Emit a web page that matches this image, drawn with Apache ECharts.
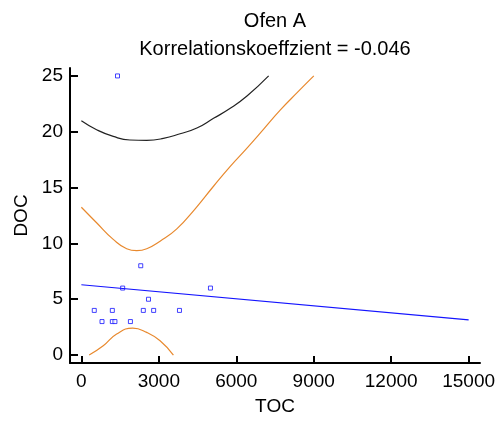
<!DOCTYPE html>
<html>
<head>
<meta charset="utf-8">
<script src="https://cdn.jsdelivr.net/npm/echarts@6/dist/echarts.min.js"></script>
<style>
  html, body { margin: 0; padding: 0; background: #fff; }
  #chart { width: 501px; height: 421px; }
</style>
</head>
<body>
<div id="chart"></div>
<script>
// measured points (TOC, DOC)
const points = [
  [500, 4], [800, 3], [1200, 4], [1200, 3], [1300, 3], [1400, 25], [1600, 6],
  [1900, 3], [2300, 8], [2400, 4], [2600, 5], [2800, 4], [3800, 4], [5000, 6]
];
// fitted line, read at both ends
const fitLine = [[0, 6.3], [15000, 3.15]];
// orange bands
const upperConf = [
  [0, 13.24], [590, 11.85], [1235, 10.36], [1755, 9.52], [2144, 9.35], [2532, 9.52],
  [3049, 10.2], [3697, 11.3], [4408, 13.1], [5119, 15.12], [5767, 16.9], [6415, 18.54],
  [7061, 20.24], [7709, 21.96], [8357, 23.5], [9003, 25]
];
const lowerConf = [
  [303, 0], [847, 0.83], [1367, 1.88], [1988, 2.41], [2532, 2.03], [3049, 1.28], [3565, 0]
];
// black band
const upperPred = [
  [0, 20.98], [590, 20.18], [1235, 19.58], [1883, 19.26], [2532, 19.23], [3177, 19.4],
  [3825, 19.82], [4474, 20.33], [5119, 21.2], [5767, 22.1], [6415, 23.2], [7254, 25]
];
const xTicks = [0, 3000, 6000, 9000, 12000, 15000];
const yTicks = [0, 5, 10, 15, 20, 25];

const font = 'Liberation Sans, Arial, sans-serif';
const xRange = { min: -440, max: 15440 };
const yRange = { min: -0.71, max: 25.71 };

const chart = echarts.init(document.getElementById('chart'));

const axisLine = { show: true, onZero: false, lineStyle: { color: '#000', width: 2 } };
const labelStyle = { fontSize: 19, fontFamily: font, color: '#000', formatter: (v) => String(v) };

chart.setOption({
  animation: false,
  graphic: [
    { type: 'text', x: 275, y: 21, style: { text: 'Ofen A', font: '20px ' + font, fill: '#000', align: 'center', verticalAlign: 'middle' } },
    { type: 'text', x: 275, y: 49, style: { text: 'Korrelationskoeffzient = -0.046', font: '20px ' + font, fill: '#000', align: 'center', verticalAlign: 'middle' } }
  ],
  grid: { left: 70, right: 21, top: 68, bottom: 57 },
  xAxis: {
    type: 'value', ...xRange,
    name: 'TOC', nameLocation: 'middle', nameGap: 34,
    nameTextStyle: { fontSize: 19, fontFamily: font, color: '#000' },
    axisLine,
    axisTick: { show: true, inside: true, length: 7, customValues: xTicks, lineStyle: { color: '#000', width: 2 } },
    axisLabel: { ...labelStyle, customValues: xTicks, margin: 9 },
    splitLine: { show: false }
  },
  yAxis: {
    type: 'value', ...yRange,
    name: 'DOC', nameLocation: 'middle', nameGap: 38,
    nameTextStyle: { fontSize: 19, fontFamily: font, color: '#000' },
    axisLine,
    axisTick: { show: true, inside: true, length: 8, customValues: yTicks, lineStyle: { color: '#000', width: 2 } },
    axisLabel: { ...labelStyle, customValues: yTicks, margin: 7 },
    splitLine: { show: false }
  },
  series: [
    {
      type: 'line', data: upperPred, smooth: 0.5, showSymbol: false,
      lineStyle: { color: '#222', width: 1.2 }
    },
    {
      type: 'line', data: upperConf, smooth: 0.5, showSymbol: false,
      lineStyle: { color: '#e8892e', width: 1.2 }
    },
    {
      type: 'line', data: lowerConf, smooth: 0.5, showSymbol: false,
      lineStyle: { color: '#e8892e', width: 1.2 }
    },
    {
      type: 'line', data: fitLine, showSymbol: false,
      lineStyle: { color: '#1414ff', width: 1.2 }
    },
    {
      type: 'scatter', data: points, symbol: 'rect', symbolSize: 4,
      itemStyle: { color: '#fff', borderColor: '#1414ff', borderWidth: 1 }
    }
  ]
});
</script>
</body>
</html>
